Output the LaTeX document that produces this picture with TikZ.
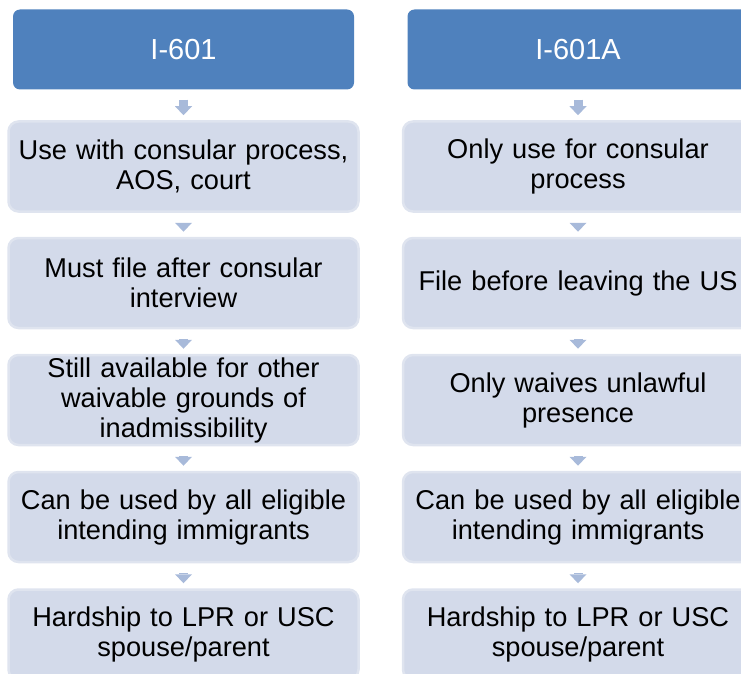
\documentclass[tikz,border=0pt]{standalone}
\usepackage{fontspec}
\setmainfont{Liberation Sans}
\usepackage{xcolor}
\usetikzlibrary{arrows.meta}

\definecolor{headblue}{HTML}{4F81BD}
\definecolor{boxfill}{HTML}{D3DAEA}
\definecolor{boxline}{HTML}{DFE4EF}
\definecolor{arrowblue}{HTML}{A8BADA}

\tikzset{
  head/.style={fill=headblue, rounded corners=7pt, minimum width=341pt, minimum height=80pt,
    text=white, font=\fontsize{29}{30}\selectfont, inner sep=0pt},
  item/.style={fill=boxfill, draw=boxline, line width=2.5pt, rounded corners=10pt,
    minimum width=350pt, minimum height=90pt, text width=345pt, align=center,
    font=\fontsize{27.2}{30}\selectfont, inner sep=0pt},
  flow/.style={arrowblue, line width=9pt,
    -{Triangle[width=17pt,length=9pt,line width=0pt,fill=arrowblue]},
    shorten <=10pt, shorten >=5pt}
}

\begin{document}
\begin{tikzpicture}[x=1pt, y=-1pt]
\useasboundingbox (0,0) rectangle (741,674);
\clip (0,0) rectangle (741,674);

% left column
\node[head] (ha) at (183.5,49.5) {I-601};
\node[item] (a1) at (183.5,166.5) {Use with consular process,\\AOS, court};
\node[item] (a2) at (183.5,283) {Must file after consular\\interview};
\node[item] (a3) at (183.5,400) {Still available for other\\waivable grounds of\\inadmissibility};
\node[item] (a4) at (183.5,517) {Can be used by all eligible\\intending immigrants};
\node[item] (a5) at (183.5,634.5) {Hardship to LPR or USC\\spouse/parent};

% right column
\node[head] (hb) at (578,49.5) {I-601A};
\node[item] (b1) at (578,166.5) {Only use for consular\\process};
\node[item] (b2) at (578,283) {File before leaving the US};
\node[item] (b3) at (578,400) {Only waives unlawful\\presence};
\node[item] (b4) at (578,517) {Can be used by all eligible\\intending immigrants};
\node[item] (b5) at (578,634.5) {Hardship to LPR or USC\\spouse/parent};

% arrows between the steps
\foreach \c in {a,b}{
  \draw[flow] (h\c.south) -- (\c1.north);
  \draw[flow] (\c1.south) -- (\c2.north);
  \draw[flow] (\c2.south) -- (\c3.north);
  \draw[flow] (\c3.south) -- (\c4.north);
  \draw[flow] (\c4.south) -- (\c5.north);
}
\end{tikzpicture}
\end{document}
